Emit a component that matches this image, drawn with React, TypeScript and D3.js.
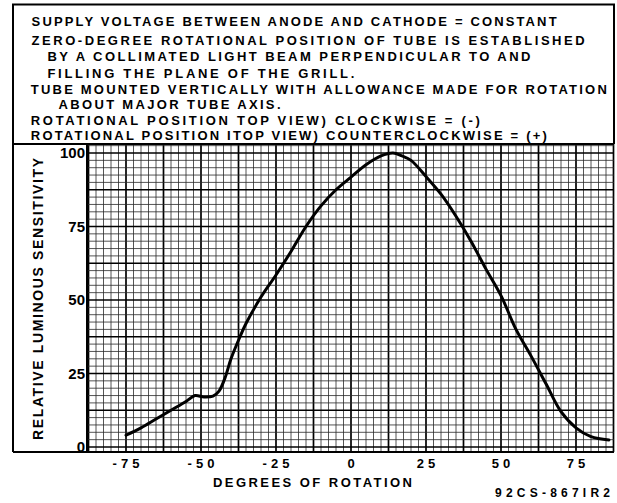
import React from "react";
import * as d3 from "d3";

// degrees of rotation vs relative luminous sensitivity
const degrees = [-75, -70, -65, -60, -55, -52, -49, -46, -44, -42, -40, -37, -35, -30, -25, -20, -15, -10, -5, 0, 5, 10, 14, 17, 20, 25, 30, 35, 40, 45, 50, 55, 60, 65, 70, 75, 80, 86];
const sensitivity = [4, 6.5, 9.5, 12.5, 15.5, 17.5, 17, 17.3, 19, 23.5, 30, 37.5, 42, 51, 58.5, 66.5, 75, 82, 87.5, 91.8, 96, 99, 100, 99, 97.5, 92, 86, 78.5, 70, 60.5, 51.5, 40, 31, 21.5, 12, 6.5, 3.5, 2.4];

const xTicks = [-75, -50, -25, 0, 25, 50, 75];
const yTicks = [0, 25, 50, 75, 100];

const notes = [
  "SUPPLY VOLTAGE BETWEEN ANODE AND CATHODE = CONSTANT",
  "ZERO-DEGREE ROTATIONAL POSITION OF TUBE IS ESTABLISHED",
  "BY A COLLIMATED LIGHT BEAM PERPENDICULAR TO AND",
  "FILLING THE PLANE OF THE GRILL.",
  "TUBE MOUNTED VERTICALLY WITH ALLOWANCE MADE FOR ROTATION",
  "ABOUT MAJOR TUBE AXIS.",
  "ROTATIONAL POSITION TOP VIEW) CLOCKWISE = (-)",
  "ROTATIONAL POSITION ITOP VIEW) COUNTERCLOCKWISE = (+)",
];
// layout for the note block: [x, baseline, width]
const noteBox = [
  [31.6, 26, 525],
  [31.6, 44.5, 553],
  [47.4, 61.3, 483],
  [47.4, 78.1, 307],
  [30.8, 93.5, 576],
  [58.5, 108.5, 222],
  [30.8, 125, 449],
  [30.8, 140, 516],
];

const font = "'Liberation Sans', Arial, sans-serif";

export default function App() {
  const W = 617;
  const H = 503;
  const left = 87, right = 614, top = 143, bottom = 452;

  const x = d3.scaleLinear().domain([0, 75]).range([351, 576]);
  const y = d3.scaleLinear().domain([0, 100]).range([447, 153]);

  const xMin = x.invert(left), xMax = x.invert(right);
  const yMin = y.invert(bottom), yMax = y.invert(top);

  const vLines = d3.range(Math.ceil(xMin / 2.5) * 2.5, xMax, 2.5);
  const hLines = d3.range(Math.ceil(yMin / 2.5) * 2.5, yMax, 2.5);
  const isMajor = (v: number) => Math.abs(v / 12.5 - Math.round(v / 12.5)) < 1e-6;

  const pts = degrees.map((d, i) => [d, sensitivity[i]] as [number, number]);
  const line = d3
    .line<[number, number]>()
    .x((d) => x(d[0]))
    .y((d) => y(d[1]))
    .curve(d3.curveCatmullRom.alpha(0.5));

  return (
    <svg width={W} height={H} style={{ position: "absolute", left: 0, top: 0, background: "#fff" }}>
      <rect width={W} height={H} fill="#fff" />

      {/* notes box */}
      <g fontFamily={font} fontWeight="bold" fontSize={13} fill="#000">
        {notes.map((t, i) => (
          <text key={i} x={noteBox[i][0]} y={noteBox[i][1]} textLength={noteBox[i][2]} lengthAdjust="spacing">
            {t}
          </text>
        ))}
      </g>

      {/* grid */}
      <g>
        {vLines.map((v) => (
          <line key={"v" + v} x1={x(v)} x2={x(v)} y1={top} y2={bottom}
            stroke={isMajor(v) ? "#000" : "#2a2a2a"} strokeWidth={isMajor(v) ? 1.7 : 0.8} />
        ))}
        {hLines.map((v) => (
          <line key={"h" + v} x1={left} x2={right} y1={y(v)} y2={y(v)}
            stroke={isMajor(v) ? "#000" : "#2a2a2a"} strokeWidth={isMajor(v) ? 1.7 : 0.8} />
        ))}
      </g>

      {/* frame */}
      <g stroke="#000" strokeWidth={2} fill="none">
        <path d={`M13,452 L13,4.5 L614,4.5 L614,144`} />
        <line x1={13} x2={right} y1={144} y2={144} />
        <line x1={13} x2={right} y1={bottom} y2={bottom} />
        <line x1={left} x2={left} y1={top} y2={bottom} />
      </g>

      {/* curve */}
      <path d={line(pts) ?? ""} fill="none" stroke="#000" strokeWidth={3} strokeLinejoin="round" strokeLinecap="round" />

      {/* y ticks */}
      <g fontFamily={font} fontWeight="bold" fontSize={15} textAnchor="end">
        {yTicks.map((t) => (
          <text key={t} x={85} y={y(t) + 5}>{t}</text>
        ))}
      </g>

      {/* x ticks */}
      <g fontFamily={font} fontWeight="bold" fontSize={13} textAnchor="middle" letterSpacing={4}>
        {xTicks.map((t) => (
          <text key={t} x={x(t) + 2} y={468}>
            {t < 0 ? "-" + Math.abs(t) : String(t)}
          </text>
        ))}
      </g>

      <text x={213} y={487} fontFamily={font} fontWeight="bold" fontSize={13} textLength={199} lengthAdjust="spacing">
        DEGREES OF ROTATION
      </text>
      <text x={495} y={497} fontFamily={font} fontWeight="bold" fontSize={12} textLength={115} lengthAdjust="spacing">
        92CS-867IR2
      </text>
      <text transform="translate(43,440) rotate(-90)" fontFamily={font} fontWeight="bold" fontSize={14}
        textLength={282} lengthAdjust="spacing">
        RELATIVE LUMINOUS SENSITIVITY
      </text>
    </svg>
  );
}
